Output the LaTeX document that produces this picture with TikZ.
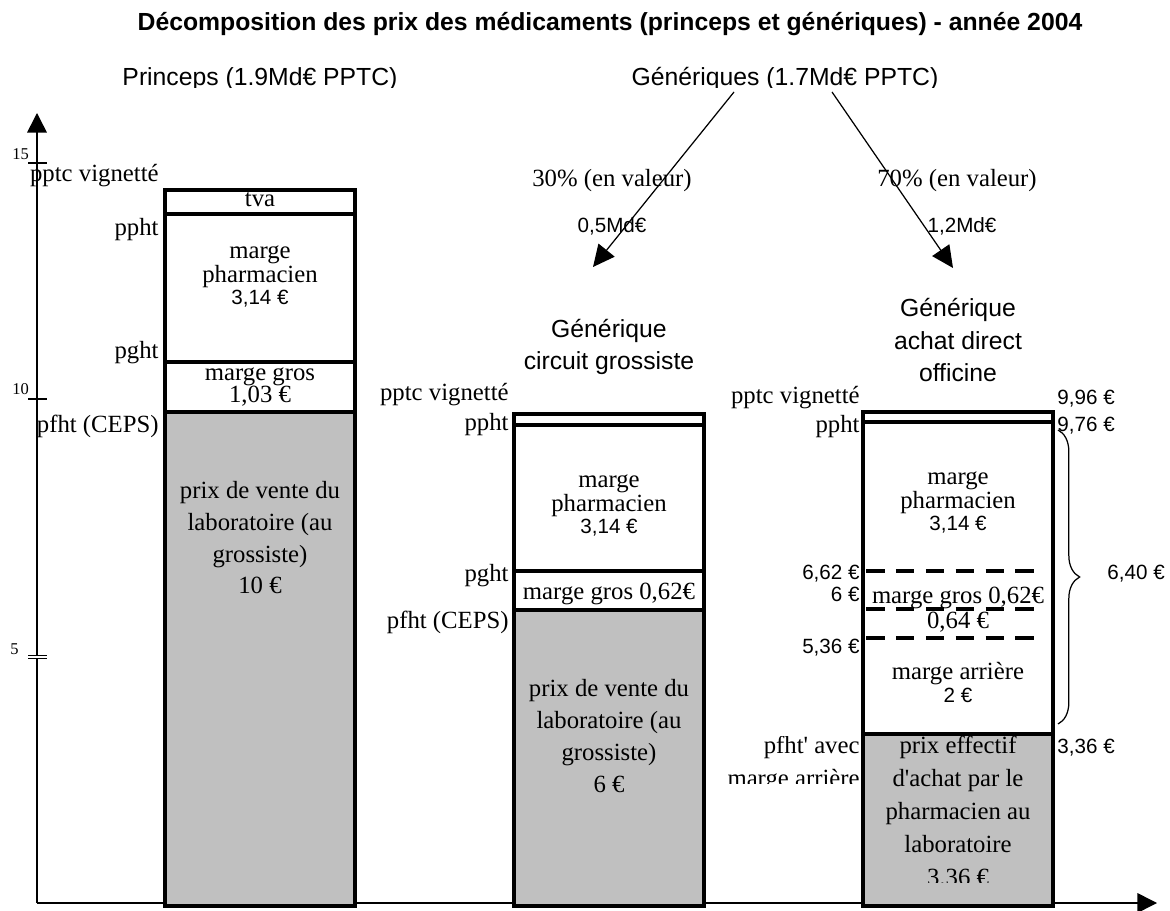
\documentclass[tikz,border=0pt]{standalone}
\usepackage{fontspec}
\setmainfont{Liberation Serif}
\setsansfont{Liberation Sans}
\usetikzlibrary{arrows.meta,decorations.pathreplacing}
\definecolor{labgray}{RGB}{192,192,192}
\newcommand{\petit}[1]{{\sffamily\fontsize{10}{12}\selectfont #1}}

\begin{document}
\begin{tikzpicture}[
    x=0.485pt, y=-0.485pt,
    lab/.style={inner sep=0pt, font=\fontsize{12}{14}\selectfont},
    num/.style={inner sep=0pt, font=\sffamily\fontsize{10}{12}\selectfont},
    ticklab/.style={inner sep=0pt, anchor=base west, font=\fontsize{8}{10}\selectfont},
    inbox/.style={inner sep=0pt, align=center, anchor=base, font=\fontsize{12}{10.7}\selectfont},
    ingray/.style={inner sep=0pt, align=center, anchor=base, font=\fontsize{12}{15.5}\selectfont},
    header/.style={inner sep=0pt, align=center, anchor=base, font=\sffamily\fontsize{12}{16}\selectfont},
    barline/.style={line width=2.4pt},
    cutline/.style={line width=2.4pt, dash pattern=on 9pt off 5.5pt},
    axisline/.style={line width=0.75pt, -{Triangle[length=9.5pt,width=9.5pt]}},
    arrow/.style={line width=0.6pt, -{Triangle[length=10.5pt,width=10pt]}}
]
    \useasboundingbox (0,0) rectangle (1170,911);

    % axes
    \coordinate (origin) at (37,903);
    \coordinate (ytip) at (37,113);
    \coordinate (xtip) at (1157,903);
    \draw[axisline] (origin) -- (ytip);
    \draw[axisline] (origin) -- (xtip);
    \draw[line width=0.75pt] (28,163) -- (47,163);
    \draw[line width=0.75pt] (28,399) -- (47,399);
    \draw[line width=0.45pt, double, double distance=0.6pt] (28,657) -- (47,657);
    \node[ticklab] (t15) at (12,160) {15};
    \node[ticklab] (t10) at (12,395) {10};
    \node[ticklab] (t5) at (10,655) {5};

    % titles
    \node[header] (title) at (610,31) {\bfseries Décomposition des prix des médicaments (princeps et génériques) - année 2004};
    \begin{scope}
        \clip (0,50) rectangle (1170,88);
        \node[header] (princeps) at (260,86) {Princeps (1.9Md€ PPTC)};
        \node[header] (generiques) at (785,86) {Génériques (1.7Md€ PPTC)};
    \end{scope}

    % split of the generics
    \coordinate (fromA) at (734,92);
    \coordinate (toA) at (593,267);
    \coordinate (fromB) at (832,92);
    \coordinate (toB) at (953,268);
    \draw[arrow] (fromA) -- (toA);
    \draw[arrow] (fromB) -- (toB);
    \node[lab, anchor=base] (partA) at (612,187) {30\% (en valeur)};
    \node[lab, anchor=base] (partB) at (957,187) {70\% (en valeur)};
    \node[num, anchor=base] (mdA) at (612,233) {0,5Md€};
    \node[num, anchor=base] (mdB) at (962,233) {1,2Md€};
    \node[header] (circuit) at (609,370) {Générique\\circuit grossiste};
    \node[header] (direct) at (958,382) {Générique\\achat direct\\officine};

    % princeps bar
    \fill[labgray] (165,412) rectangle (355,906);
    \draw[barline] (165,190) rectangle (355,906);
    \draw[barline] (165,214) -- (355,214);
    \draw[barline] (165,362) -- (355,362);
    \draw[barline] (165,412) -- (355,412);
    \node[inbox] (tva) at (260,207) {tva};
    \node[inbox] (pharmaA) at (260,305) {marge\\pharmacien\\\petit{3,14 €}};
    \node[inbox] (grosA) at (260,403) {marge gros\\1,03 €};
    \node[ingray] (laboA) at (260,594) {prix de vente du\\laboratoire (au\\grossiste)\\10 €};
    \node[lab, anchor=base east] (pptcA) at (159,182) {pptc vignetté};
    \node[lab, anchor=base east] (pphtA) at (159,236) {ppht};
    \node[lab, anchor=base east] (pghtA) at (159,359) {pght};
    \node[lab, anchor=base east] (pfhtA) at (159,433) {pfht (CEPS)};

    % generic bar, wholesaler
    \fill[labgray] (514,610) rectangle (704,906);
    \draw[barline] (514,414) rectangle (704,906);
    \draw[barline] (514,425) -- (704,425);
    \draw[barline] (514,571) -- (704,571);
    \draw[barline] (514,610) -- (704,610);
    \node[inbox] (pharmaB) at (609,534) {marge\\pharmacien\\\petit{3,14 €}};
    \node[inbox] (grosB) at (609,600) {marge gros 0,62€};
    \node[ingray] (laboB) at (609,792) {prix de vente du\\laboratoire (au\\grossiste)\\6 €};
    \node[lab, anchor=base east] (pptcB) at (509,401) {pptc vignetté};
    \node[lab, anchor=base east] (pphtB) at (509,431) {ppht};
    \node[lab, anchor=base east] (pghtB) at (509,582) {pght};
    \node[lab, anchor=base east] (pfhtB) at (509,629) {pfht (CEPS)};

    % generic bar, direct purchase
    \fill[labgray] (863,734) rectangle (1053,906);
    \draw[barline] (863,412) rectangle (1053,906);
    \draw[barline] (863,422) -- (1053,422);
    \draw[cutline] (866,571) -- (1040,571);
    \draw[cutline] (866,609) -- (1040,609);
    \draw[cutline] (866,638) -- (1040,638);
    \draw[barline] (863,734) -- (1053,734);
    \node[inbox] (pharmaC) at (958,531) {marge\\pharmacien\\\petit{3,14 €}};
    \node[inbox] (grosC) at (958,604) {marge gros 0,62€};
    \node[inbox] (remise) at (958,629) {0,64 €};
    \node[inbox] (arriere) at (958,702) {marge arrière\\\petit{2 €}};
    \begin{scope}
        \clip (866,736) rectangle (1050,882);
        \node[ingray, font=\fontsize{12}{16}\selectfont] (achat) at (958,885) {prix effectif\\d\textquotesingle achat par le\\pharmacien au\\laboratoire\\3.36 €};
    \end{scope}
    \node[lab, anchor=base east] (pptcC) at (860,404) {pptc vignetté};
    \node[lab, anchor=base east] (pphtC) at (860,433) {ppht};
    \node[num, anchor=base east] (v662) at (860,580) {6,62 €};
    \node[num, anchor=base east] (v6) at (860,602) {6 €};
    \node[num, anchor=base east] (v536) at (860,654) {5,36 €};
    \begin{scope}
        \clip (700,736) rectangle (861,783);
        \node[lab, align=right, anchor=base east, font=\fontsize{12}{16}\selectfont] (pfhtC) at (860,786) {pfht\textquotesingle{} avec\\marge arrière};
    \end{scope}
    \node[num, anchor=base west] (v996) at (1057,405) {9,96 €};
    \node[num, anchor=base west] (v976) at (1057,432) {9,76 €};
    \node[num, anchor=base west] (v336) at (1057,753) {3,36 €};

    % brace over the margins
    \coordinate (brtop) at (1058,430);
    \coordinate (brbot) at (1058,724);
    \draw[decorate, decoration={brace, amplitude=10.5pt}, line width=0.6pt] (brtop) -- (brbot);
    \node[num, anchor=base west] (v640) at (1107,580) {6,40 €};
\end{tikzpicture}
\end{document}
